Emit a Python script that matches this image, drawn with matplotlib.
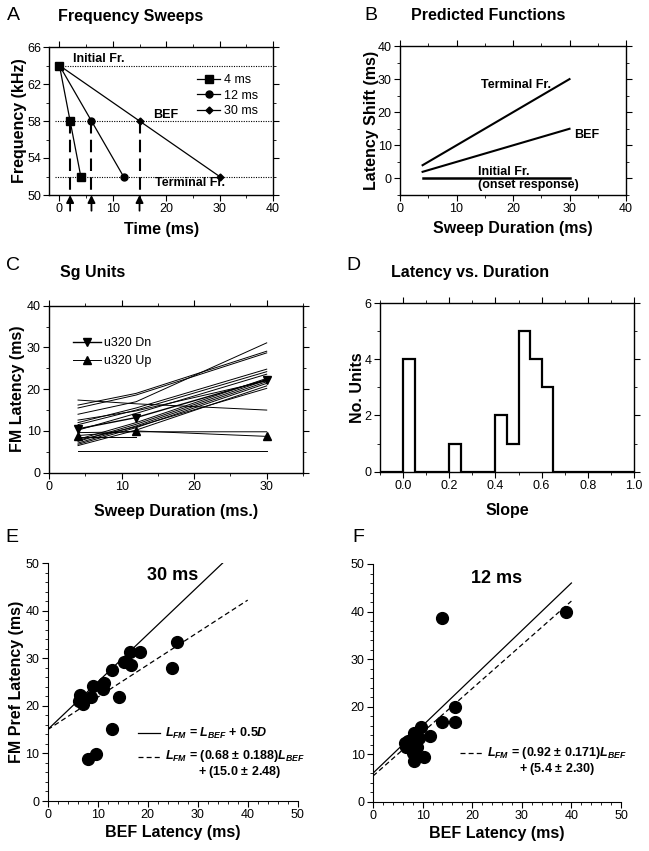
import matplotlib
matplotlib.use("Agg")
import matplotlib.pyplot as plt
import numpy as np
from matplotlib.ticker import MultipleLocator, FixedLocator, FormatStrFormatter

plt.rcParams['font.family'] = ['Liberation Sans', 'DejaVu Sans']
plt.rcParams['mathtext.fontset'] = 'custom'
plt.rcParams['mathtext.it'] = 'Liberation Sans:italic:bold'
plt.rcParams['mathtext.rm'] = 'Liberation Sans:bold'
plt.rcParams['mathtext.bf'] = 'Liberation Sans:bold'

# ---------------- Data ----------------
# Panel A: frequency sweeps
sweep_durations = [4, 12, 30]
initial_freq = 64
bef_freq = 58
terminal_freq = 52
sweep_markers = ['s', 'o', 'D']
sweep_msizes = [6, 5, 3.5]
sweep_labels = ['4 ms', '12 ms', '30 ms']
freq_ticks = [50, 54, 58, 62, 66]

# Panel B: predicted functions
pred_dur = [4, 30]
pred_terminal = [4, 30]
pred_bef = [2, 15]
pred_initial = [0, 0]

# Panel C: Sg units (latency at 4, 12, 30 ms sweep duration)
c_durations = [4, 12, 30]
c_units = [
    [14.0, 17.0, 31.1],
    [16.2, 19.0, 29.1],
    [15.5, 18.6, 28.7],
    [17.4, 16.5, 15.0],
    [12.0, 15.5, 24.8],
    [11.5, 15.0, 24.2],
    [10.2, 14.2, 23.6],
    [8.0, 12.0, 22.6],
    [7.5, 11.6, 22.2],
    [7.1, 11.2, 21.8],
    [6.8, 10.8, 21.4],
    [6.5, 10.2, 20.8],
    [7.8, 11.0, 20.2],
    [12.6, 14.8, 22.0],
    [9.6, 9.8, 9.8],
    [5.2, 5.2, 5.2],
]
c_short_unit = [8.5, 8.5]          # only 4 and 12 ms
u320_dn = [10.5, 13.2, 22.3]
u320_up = [8.9, 10.0, 8.7]

# Panel D: slope histogram
slope_edges = [-0.1, -0.05, 0.0, 0.05, 0.1, 0.15, 0.2, 0.25, 0.3, 0.35, 0.4,
               0.45, 0.5, 0.55, 0.6, 0.65, 0.7, 0.75, 0.8, 0.85, 0.9, 0.95, 1.0]
slope_counts = [0, 0, 4, 0, 0, 0, 1, 0, 0, 0, 2, 1, 5, 4, 3, 0, 0, 0, 0, 0, 0, 0]

# Panel E: 30 ms
e_bef = [6.5, 6.7, 7.1, 8.6, 9.1, 11.3, 11.1, 12.9, 14.3, 12.9, 8.1, 9.7,
         15.3, 16.5, 16.6, 18.5, 24.9, 25.8, 6.3]
e_fm = [22.3, 21.2, 20.4, 21.9, 24.2, 24.7, 23.5, 27.5, 21.9, 15.1, 8.8, 9.9,
        29.2, 31.2, 28.6, 31.2, 28.0, 33.5, 21.0]
e_slope, e_int = 0.68, 15.0
e_D = 30

# Panel F: 12 ms
f_bef = [14.0, 38.9, 16.5, 14.0, 16.5, 9.6, 8.3, 11.4, 9.2, 7.0, 6.5, 6.7,
         8.8, 8.1, 10.3, 8.3]
f_fm = [38.6, 40.0, 20.0, 16.7, 16.7, 15.7, 14.4, 13.9, 13.3, 12.8, 12.4, 11.6,
        11.5, 10.2, 9.5, 8.6]
f_slope, f_int = 0.92, 5.4
f_D = 12

# ---------------- Figure ----------------
fig = plt.figure(figsize=(6.49, 8.51), dpi=100)
W, H = 649, 851

def add_ax(l, r, t, b):
    return fig.add_axes([l / W, 1 - b / H, (r - l) / W, (b - t) / H])

axA = add_ax(49.3, 273, 47, 195)
axB = add_ax(400, 626, 46, 195)
axC = add_ax(49, 303, 305.7, 472.7)
axD = add_ax(380, 634, 303, 471.7)
axE = add_ax(47.7, 297.7, 563, 801)
axF = add_ax(373, 621, 564, 801.7)

LBL = dict(fontsize=11.5, fontweight='bold')
TICKFS = 9

def style_box(ax):
    for s in ax.spines.values():
        s.set_linewidth(1.0)
    ax.tick_params(which='both', direction='out', top=True, right=True,
                   labeltop=False, labelright=False, labelsize=TICKFS, pad=2)
    ax.tick_params(which='major', length=4)
    ax.tick_params(which='minor', length=2.5)

def style_open(ax):
    ax.spines['top'].set_visible(False)
    ax.spines['right'].set_visible(False)
    ax.tick_params(which='both', direction='out', labelsize=TICKFS, pad=2)
    ax.tick_params(which='major', length=4)
    ax.tick_params(which='minor', length=2.5)

# ----- Panel A -----
ax = axA
style_box(ax)
ax.set_xlim(-1.9, 40)
ax.set_ylim(50, 66)
ax.xaxis.set_major_locator(MultipleLocator(10))
ax.xaxis.set_minor_locator(MultipleLocator(5))
ax.yaxis.set_major_locator(FixedLocator(freq_ticks))
ax.yaxis.set_minor_locator(MultipleLocator(2))
for f in [initial_freq, bef_freq, terminal_freq]:
    ax.plot([-0.8, 40], [f, f], ls=(0, (1, 1.2)), color='k', lw=0.8)
for d, m, ms, lab in zip(sweep_durations, sweep_markers, sweep_msizes, sweep_labels):
    tb = d * (initial_freq - bef_freq) / (initial_freq - terminal_freq)
    ax.plot([0, tb, d], [initial_freq, bef_freq, terminal_freq], color='k', lw=0.9,
            marker=m, ms=ms, label=lab)
    ax.plot([tb, tb], [bef_freq, 50], color='k', lw=1.5, ls=(0, (6, 3)))
    ax.annotate('', xy=(tb, 50), xytext=(tb, 48.3), xycoords='data',
                arrowprops=dict(arrowstyle='-|>', color='k', lw=1.3,
                                mutation_scale=11, shrinkA=0, shrinkB=0),
                annotation_clip=False)
ax.text(2.6, 64.75, 'Initial Fr.', fontsize=9, fontweight='bold', va='center')
ax.text(19.9, 58.7, 'BEF', fontsize=9, fontweight='bold', va='center', ha='center')
ax.text(24.4, 51.3, 'Terminal Fr.', fontsize=9, fontweight='bold', va='center', ha='center')
ax.legend(loc='upper right', bbox_to_anchor=(0.96, 0.86), frameon=False, fontsize=9,
          handlelength=1.8, handletextpad=0.3, labelspacing=0.3, borderpad=0)
ax.set_xlabel('Time (ms)', labelpad=5, **LBL)
ax.set_ylabel('Frequency (kHz)', labelpad=0, **LBL)

# ----- Panel B -----
ax = axB
style_box(ax)
ax.set_xlim(0, 40)
ax.set_ylim(-5, 40)
ax.xaxis.set_major_locator(MultipleLocator(10))
ax.xaxis.set_minor_locator(MultipleLocator(5))
ax.yaxis.set_major_locator(MultipleLocator(10))
ax.yaxis.set_minor_locator(MultipleLocator(5))
ax.plot(pred_dur, pred_terminal, color='k', lw=1.5)
ax.plot(pred_dur, pred_bef, color='k', lw=1.5)
ax.plot(pred_dur, pred_initial, color='k', lw=1.8)
ax.text(20.5, 28.3, 'Terminal Fr.', fontsize=9, fontweight='bold', ha='center', va='center')
ax.text(30.8, 13, 'BEF', fontsize=9, fontweight='bold', ha='left', va='center')
ax.text(13.8, 1.9, 'Initial Fr.', fontsize=9, fontweight='bold', ha='left', va='center')
ax.text(13.8, -2.1, '(onset response)', fontsize=9, fontweight='bold', ha='left', va='center')
ax.set_xlabel('Sweep Duration (ms)', labelpad=4, **LBL)
ax.set_ylabel('Latency Shift (ms)', labelpad=-1, **LBL)

# ----- Panel C -----
ax = axC
style_box(ax)
ax.set_xlim(0, 35)
ax.set_ylim(0, 40)
ax.xaxis.set_major_locator(MultipleLocator(10))
ax.xaxis.set_minor_locator(MultipleLocator(5))
ax.yaxis.set_major_locator(MultipleLocator(10))
ax.yaxis.set_minor_locator(MultipleLocator(5))
for u in c_units:
    ax.plot(c_durations, u, color='k', lw=0.7)
ax.plot(c_durations[:2], c_short_unit, color='k', lw=0.7)
ax.plot(c_durations, u320_dn, color='k', lw=1.0, marker='v', ms=6, label='u320 Dn')
ax.plot(c_durations, u320_up, color='k', lw=0.7, marker='^', ms=6, label='u320 Up')
ax.legend(loc='upper left', bbox_to_anchor=(0.07, 0.85), frameon=False, fontsize=9,
          handlelength=2.2, handletextpad=0.3, labelspacing=0.5, borderpad=0)
ax.set_xlabel('Sweep Duration (ms.)', labelpad=8, **LBL)
ax.set_ylabel('FM Latency (ms)', labelpad=1, **LBL)

# ----- Panel D -----
ax = axD
style_box(ax)
ax.set_xlim(-0.1, 1.0)
ax.set_ylim(0, 6)
ax.xaxis.set_major_locator(MultipleLocator(0.2))
ax.xaxis.set_minor_locator(MultipleLocator(0.1))
ax.yaxis.set_major_locator(MultipleLocator(2))
ax.yaxis.set_minor_locator(MultipleLocator(1))
ax.xaxis.set_major_formatter(FormatStrFormatter('%.1f'))
ax.stairs(slope_counts, slope_edges, color='k', lw=1.6)
ax.set_xlabel('Slope', labelpad=8, **LBL)
ax.set_ylabel('No. Units', labelpad=0, **LBL)

# ----- Panel E -----
ax = axE
style_open(ax)
ax.set_xlim(0, 50)
ax.set_ylim(0, 50)
ax.xaxis.set_major_locator(MultipleLocator(10))
ax.xaxis.set_minor_locator(MultipleLocator(2))
ax.yaxis.set_major_locator(MultipleLocator(10))
ax.yaxis.set_minor_locator(MultipleLocator(2))
xs = np.array([0, 35])
ax.plot(xs, xs + 0.5 * e_D, color='k', lw=0.9)
xd = np.array([0, 40])
ax.plot(xd, e_slope * xd + e_int, color='k', lw=0.9, ls=(0, (4, 2.5)))
ax.plot(e_bef, e_fm, 'o', color='k', ms=8.5, clip_on=False)
ax.text(25, 47.3, '30 ms', fontsize=13, fontweight='bold', ha='center', va='center')
ax.plot([18, 22.5], [14.2, 14.2], color='k', lw=0.9)
ax.plot([18, 22.5], [9.3, 9.3], color='k', lw=0.9, ls=(0, (4, 2.5)))
ax.text(23.5, 14.2, r'$L_{FM}$ = $L_{BEF}$ + 0.5$D$', fontsize=9, fontweight='bold', va='center')
ax.text(23.5, 9.5, r'$L_{FM}$ = (0.68 $\pm$ 0.188)$L_{BEF}$', fontsize=9, fontweight='bold', va='center')
ax.text(30, 6.0, r'+ (15.0 $\pm$ 2.48)', fontsize=9, fontweight='bold', va='center')
ax.set_xlabel('BEF Latency (ms)', labelpad=3, **LBL)
ax.set_ylabel('FM Pref Latency (ms)', labelpad=1, **LBL)

# ----- Panel F -----
ax = axF
style_open(ax)
ax.set_xlim(0, 50)
ax.set_ylim(0, 50)
ax.xaxis.set_major_locator(MultipleLocator(10))
ax.xaxis.set_minor_locator(MultipleLocator(2))
ax.yaxis.set_major_locator(MultipleLocator(10))
ax.yaxis.set_minor_locator(MultipleLocator(2))
xs = np.array([0, 40])
ax.plot(xs, xs + 0.5 * f_D, color='k', lw=0.9)
ax.plot(xs, f_slope * xs + f_int, color='k', lw=0.9, ls=(0, (4, 2.5)))
ax.plot(f_bef, f_fm, 'o', color='k', ms=8.5, clip_on=False)
ax.text(25, 47.0, '12 ms', fontsize=13, fontweight='bold', ha='center', va='center')
ax.plot([17.5, 22], [10.2, 10.2], color='k', lw=0.9, ls=(0, (4, 2.5)))
ax.text(23, 10.2, r'$L_{FM}$ = (0.92 $\pm$ 0.171)$L_{BEF}$', fontsize=9, fontweight='bold', va='center')
ax.text(29.5, 6.8, r'+ (5.4 $\pm$ 2.30)', fontsize=9, fontweight='bold', va='center')
ax.set_xlabel('BEF Latency (ms)', labelpad=3, **LBL)

# ----- Panel letters and titles -----
def fig_text(x, y, s, **kw):
    fig.text(x / W, 1 - y / H, s, **kw)

fig_text(7, 16, 'A', fontsize=14, va='center')
fig_text(58, 16, 'Frequency Sweeps', fontsize=11.5, fontweight='bold', va='center')
fig_text(364, 16, 'B', fontsize=14, va='center')
fig_text(411, 16, 'Predicted Functions', fontsize=11.5, fontweight='bold', va='center')
fig_text(6, 265, 'C', fontsize=14, va='center')
fig_text(60, 273, 'Sg Units', fontsize=11.5, fontweight='bold', va='center')
fig_text(346, 265, 'D', fontsize=14, va='center')
fig_text(391, 273, 'Latency vs. Duration', fontsize=11.5, fontweight='bold', va='center')
fig_text(5, 538, 'E', fontsize=14, va='center')
fig_text(352, 538, 'F', fontsize=14, va='center')

fig.savefig('out.png', dpi=100)
